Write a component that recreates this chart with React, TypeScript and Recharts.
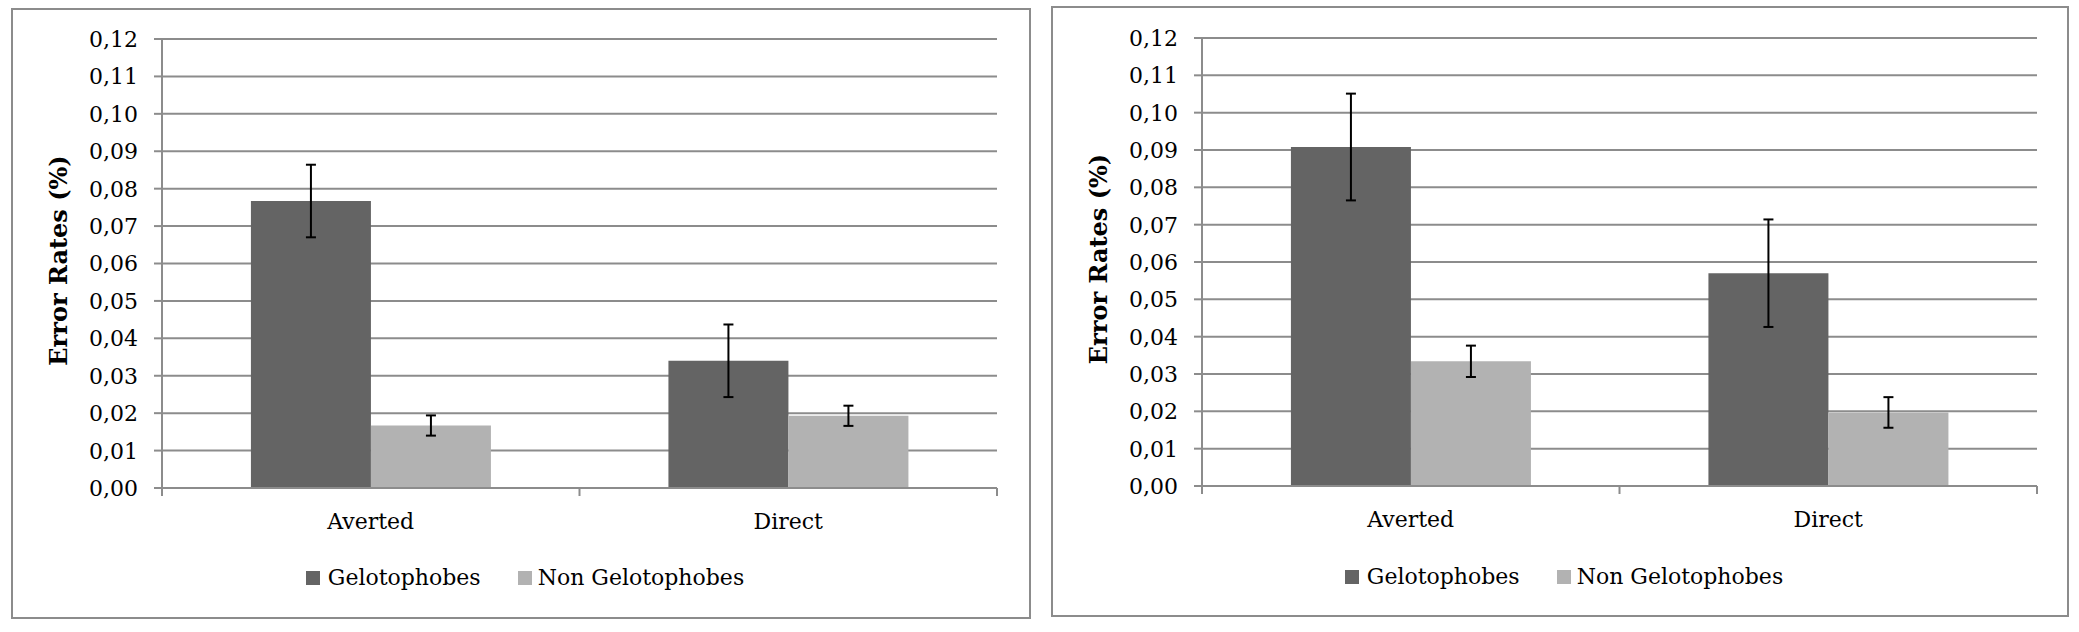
import React from "react";
import { BarChart, Bar, XAxis, YAxis, CartesianGrid, Legend, ErrorBar } from "recharts";

const categories = ["Averted", "Direct"];
const yTicks = [0, 0.01, 0.02, 0.03, 0.04, 0.05, 0.06, 0.07, 0.08, 0.09, 0.1, 0.11, 0.12];

// left panel
const leftGelo = [0.0767, 0.034];
const leftGeloErr = [0.0097, 0.0097];
const leftNon = [0.0167, 0.0193];
const leftNonErr = [0.0027, 0.0027];

// right panel
const rightGelo = [0.0908, 0.057];
const rightGeloErr = [0.0143, 0.0144];
const rightNon = [0.0334, 0.0197];
const rightNonErr = [0.0042, 0.0041];

const FONT = "'DejaVu Serif', 'Liberation Serif', serif";
const TXT = 22;
const GRID = "#8c8c8c";
const DARK = "#646464";
const LIGHT = "#b2b2b2";

function makeRows(g: number[], gErr: number[], n: number[], nErr: number[]) {
  return categories.map((c, i) => ({ cat: c, gelo: g[i], geloErr: gErr[i], non: n[i], nonErr: nErr[i] }));
}

const fmt = (v: number) => v.toFixed(2).replace(".", ",");

function CatTick(props: any) {
  const { x, y, payload } = props;
  const half = payload?.offset ?? 0;
  const idx = props.index ?? payload?.index ?? 0;
  return (
    <g>
      <line x1={x - half} x2={x - half} y1={y} y2={y + 8} stroke={GRID} strokeWidth={2} />
      {idx === categories.length - 1 && (
        <line x1={x + half} x2={x + half} y1={y} y2={y + 8} stroke={GRID} strokeWidth={2} />
      )}
      <text x={x} y={y + 41} textAnchor="middle" style={{ fontFamily: FONT, fontSize: TXT }} fill="#000">
        {payload.value}
      </text>
    </g>
  );
}

function YTick(props: any) {
  const { x, y, payload } = props;
  return (
    <text x={x} y={y} dy="0.36em" textAnchor="end" style={{ fontFamily: FONT, fontSize: TXT }} fill="#000">
      {fmt(payload.value)}
    </text>
  );
}

function YTitle(props: any) {
  const vb = props.viewBox || { x: 0, y: 0, width: 0, height: 0 };
  const cx = vb.x + 45;
  const cy = vb.y + vb.height / 2 - 3;
  return (
    <text
      x={cx}
      y={cy}
      textAnchor="middle"
      dominantBaseline="central"
      transform={`rotate(-90, ${cx}, ${cy})`}
      style={{ fontFamily: FONT, fontSize: 24, fontWeight: "bold" }}
      fill="#000"
    >
      Error Rates (%)
    </text>
  );
}

function LegendBox(props: any) {
  const items = props.payload || [];
  return (
    <div
      style={{
        display: "flex",
        justifyContent: "center",
        alignItems: "center",
        height: 30,
        lineHeight: "30px",
        fontFamily: FONT,
        fontSize: TXT,
        color: "#000",
      }}
    >
      {items.map((it: any, i: number) => (
        <React.Fragment key={it.value}>
          <span style={{ display: "inline-block", width: 14, height: 14, background: it.color, marginRight: i === 0 ? 8 : 6 }} />
          <span style={{ marginRight: i === 0 ? 37 : 0 }}>{it.value}</span>
        </React.Fragment>
      ))}
    </div>
  );
}

function Panel({
  left,
  top,
  width,
  height,
  rows,
  marginTop,
  marginRight,
  legendBottom,
}: {
  left: number;
  top: number;
  width: number;
  height: number;
  rows: any[];
  marginTop: number;
  marginRight: number;
  legendBottom: number;
}) {
  const w = width - 4;
  const h = height - 4;
  const plotBottom = h - 129;
  return (
    <div
      style={{
        position: "absolute",
        left,
        top,
        width,
        height,
        border: `2px solid ${GRID}`,
        boxSizing: "border-box",
        background: "#fff",
      }}
    >
      <BarChart
        width={w}
        height={h}
        data={rows}
        margin={{ top: marginTop, right: marginRight, bottom: h - plotBottom - 90, left: 0 }}
        barCategoryGap="21.3%"
        barGap={0}
      >
        <CartesianGrid vertical={false} stroke={GRID} strokeWidth={2} />
        <XAxis
          dataKey="cat"
          height={60}
          axisLine={{ stroke: GRID, strokeWidth: 2 }}
          tickLine={false}
          tickSize={0}
          tickMargin={0}
          tick={<CatTick />}
          interval={0}
        />
        <YAxis
          type="number"
          domain={[0, 0.12]}
          ticks={yTicks}
          interval={0}
          width={149}
          axisLine={{ stroke: GRID, strokeWidth: 2 }}
          tickLine={{ stroke: GRID, strokeWidth: 2 }}
          tickSize={8}
          tickMargin={16}
          tick={<YTick />}
          label={<YTitle />}
        />
        <Legend
          verticalAlign="bottom"
          height={30}
          content={<LegendBox />}
          wrapperStyle={{ left: 4, width: w, bottom: legendBottom }}
        />
        <Bar dataKey="gelo" name="Gelotophobes" fill={DARK} isAnimationActive={false}>
          <ErrorBar dataKey="geloErr" width={5} stroke="#000" strokeWidth={2} isAnimationActive={false} />
        </Bar>
        <Bar dataKey="non" name="Non Gelotophobes" fill={LIGHT} isAnimationActive={false}>
          <ErrorBar dataKey="nonErr" width={5} stroke="#000" strokeWidth={2} isAnimationActive={false} />
        </Bar>
      </BarChart>
    </div>
  );
}

export default function App() {
  const leftRows = makeRows(leftGelo, leftGeloErr, leftNon, leftNonErr);
  const rightRows = makeRows(rightGelo, rightGeloErr, rightNon, rightNonErr);
  return (
    <div style={{ position: "absolute", left: 0, top: 0, width: 2079, height: 632, background: "#fff" }}>
      <Panel left={11} top={8} width={1020} height={611} rows={leftRows} marginTop={29} marginRight={32} legendBottom={24} />
      <Panel left={1051} top={6} width={1018} height={611} rows={rightRows} marginTop={30} marginRight={30} legendBottom={23} />
    </div>
  );
}
